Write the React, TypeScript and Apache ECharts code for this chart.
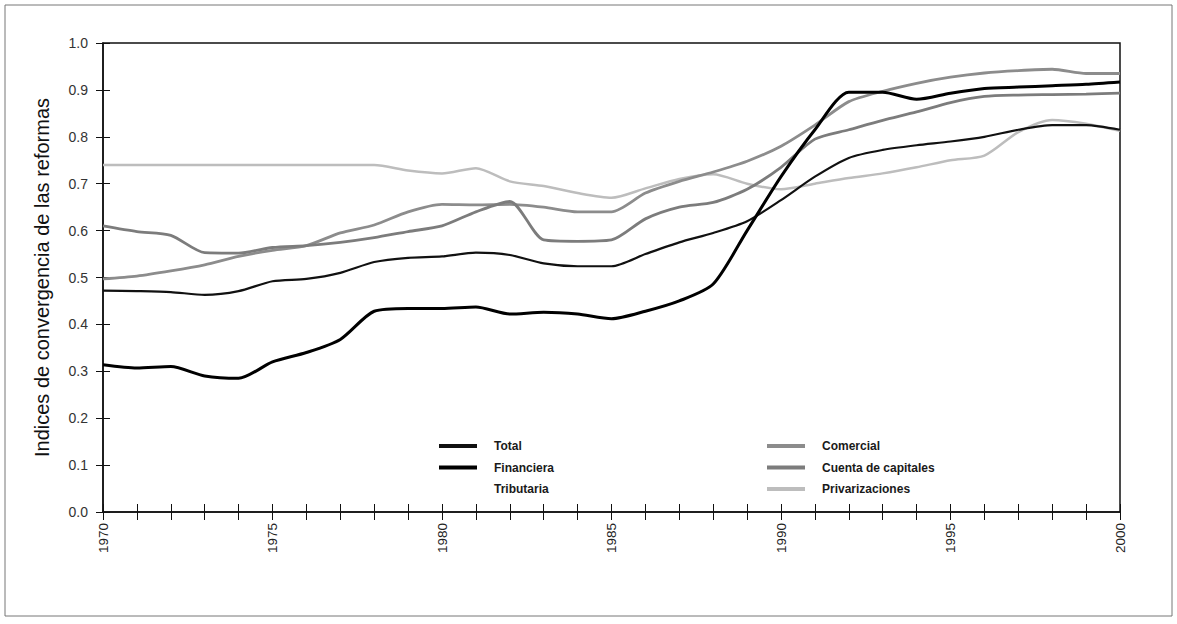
import React, { useEffect, useRef } from "react";
import * as echarts from "echarts";

const years = [
  1970, 1971, 1972, 1973, 1974, 1975, 1976, 1977, 1978, 1979,
  1980, 1981, 1982, 1983, 1984, 1985, 1986, 1987, 1988, 1989,
  1990, 1991, 1992, 1993, 1994, 1995, 1996, 1997, 1998, 1999, 2000,
];

const total = [
  0.472, 0.471, 0.469, 0.463, 0.471, 0.492, 0.497, 0.51, 0.533, 0.542,
  0.545, 0.553, 0.548, 0.53, 0.524, 0.524, 0.55, 0.575, 0.595, 0.62,
  0.665, 0.715, 0.755, 0.772, 0.782, 0.79, 0.8, 0.815, 0.825, 0.825, 0.815,
];

const financiera = [
  0.314, 0.307, 0.31, 0.29, 0.285, 0.32, 0.34, 0.368, 0.428, 0.434,
  0.434, 0.437, 0.422, 0.426, 0.422, 0.412, 0.428, 0.45, 0.486, 0.6,
  0.715, 0.815, 0.895, 0.895, 0.88, 0.893, 0.903, 0.906, 0.909, 0.912, 0.917,
];

const tributaria: number[] = [];

const comercial = [
  0.497, 0.503, 0.514, 0.527, 0.545, 0.558, 0.568, 0.595, 0.612, 0.64,
  0.656, 0.655, 0.656, 0.65, 0.64, 0.64, 0.68, 0.705, 0.725, 0.748,
  0.78, 0.825, 0.875, 0.897, 0.914, 0.927, 0.936, 0.941, 0.944, 0.935, 0.935,
];

const cuentaCapitales = [
  0.61, 0.598, 0.59, 0.553, 0.552, 0.564, 0.568, 0.575, 0.585, 0.598,
  0.61, 0.64, 0.662, 0.58, 0.577, 0.58, 0.625, 0.65, 0.66, 0.688,
  0.735, 0.795, 0.815, 0.835, 0.853, 0.873, 0.886, 0.889, 0.89, 0.891, 0.893,
];

const privatizaciones = [
  0.74, 0.74, 0.74, 0.74, 0.74, 0.74, 0.74, 0.74, 0.74, 0.728,
  0.722, 0.733, 0.705, 0.695, 0.68, 0.67, 0.69, 0.71, 0.72, 0.7,
  0.688, 0.7, 0.712, 0.722, 0.735, 0.75, 0.76, 0.81, 0.836, 0.828, 0.813,
];

const legendLeft = ["Total", "Financiera", "Tributaria"];
const legendRight = ["Comercial", "Cuenta de capitales", "Privarizaciones"];
const yAxisTitle = "Indices de convergencia de las reformas";

export default function App() {
  const ref = useRef<HTMLDivElement>(null);

  useEffect(() => {
    if (!ref.current) return;
    const chart = echarts.init(ref.current, null, { renderer: "svg" });
    const font = "'Liberation Sans', Arial, Helvetica, sans-serif";

    const mk = (name: string, vals: number[], color: string, width: number, z: number) => ({
      name,
      type: "line",
      data: vals.map((v, i) => [years[i], v]),
      symbol: "none",
      showSymbol: false,
      smooth: 0.25,
      z,
      lineStyle: { color, width },
      itemStyle: { color },
    });

    const legendCommon = {
      orient: "vertical",
      top: 435,
      icon: "rect",
      itemWidth: 38,
      itemHeight: 4,
      itemGap: 9.5,
      selectedMode: false,
      textStyle: {
        fontFamily: font,
        fontSize: 12,
        fontWeight: "bold",
        color: "#1a1a1a",
        padding: [0, 0, 0, 12],
      },
    };

    chart.setOption({
      animation: false,
      backgroundColor: "#ffffff",
      grid: {
        left: 103,
        right: 57,
        top: 43,
        bottom: 112,
        show: true,
        borderColor: "#111",
        borderWidth: 1.5,
        backgroundColor: "transparent",
      },
      graphic: [
        {
          type: "rect",
          shape: { x: 5, y: 5, width: 1167, height: 611 },
          style: { fill: "none", stroke: "#777", lineWidth: 1 },
          silent: true,
          z: -10,
        },
      ],
      legend: [
        { ...legendCommon, left: 434, data: legendLeft },
        { ...legendCommon, left: 762, data: legendRight },
      ],
      xAxis: [
        {
          type: "value",
          min: 1970,
          max: 2000,
          interval: 1,
          position: "bottom",
          axisLine: { lineStyle: { color: "#111", width: 1.5 } },
          axisTick: { show: true, length: 8, lineStyle: { color: "#111", width: 1 } },
          axisLabel: {
            rotate: 90,
            margin: 11,
            fontSize: 13.5,
            fontFamily: font,
            color: "#222",
            formatter: (v: number) => (v % 5 === 0 ? String(v) : ""),
          },
          splitLine: { show: false },
        },
        {
          type: "value",
          min: 1970,
          max: 2000,
          interval: 1,
          position: "bottom",
          axisLine: { show: false },
          axisTick: { show: true, inside: true, length: 8, lineStyle: { color: "#111", width: 1 } },
          axisLabel: { show: false },
          splitLine: { show: false },
        },
      ],
      yAxis: [
        {
          type: "value",
          min: 0,
          max: 1,
          interval: 0.1,
          position: "left",
          axisLine: { show: true, lineStyle: { color: "#111", width: 1.5 } },
          axisTick: { show: true, length: 7, lineStyle: { color: "#111", width: 1 } },
          axisLabel: {
            margin: 15,
            fontSize: 14,
            fontFamily: font,
            color: "#333",
            formatter: (v: number) => v.toFixed(1),
          },
          splitLine: { show: false },
          name: yAxisTitle,
          nameLocation: "middle",
          nameGap: 51,
          nameTextStyle: { fontFamily: font, fontSize: 20, color: "#111" },
        },
        {
          type: "value",
          min: 0,
          max: 1,
          interval: 0.1,
          position: "left",
          axisLine: { show: false },
          axisTick: { show: true, inside: true, length: 7, lineStyle: { color: "#111", width: 1 } },
          axisLabel: { show: false },
          splitLine: { show: false },
        },
      ],
      series: [
        mk("Privarizaciones", privatizaciones, "#bdbdbd", 2.5, 2),
        mk("Comercial", comercial, "#8c8c8c", 2.8, 3),
        mk("Cuenta de capitales", cuentaCapitales, "#7c7c7c", 2.8, 3),
        mk("Tributaria", tributaria, "#ffffff", 2, 1),
        mk("Total", total, "#111111", 2.2, 5),
        mk("Financiera", financiera, "#000000", 3, 6),
      ],
    });

    return () => chart.dispose();
  }, []);

  return (
    <div
      ref={ref}
      style={{ position: "fixed", left: 0, top: 0, width: 1177, height: 624, background: "#fff" }}
    />
  );
}
